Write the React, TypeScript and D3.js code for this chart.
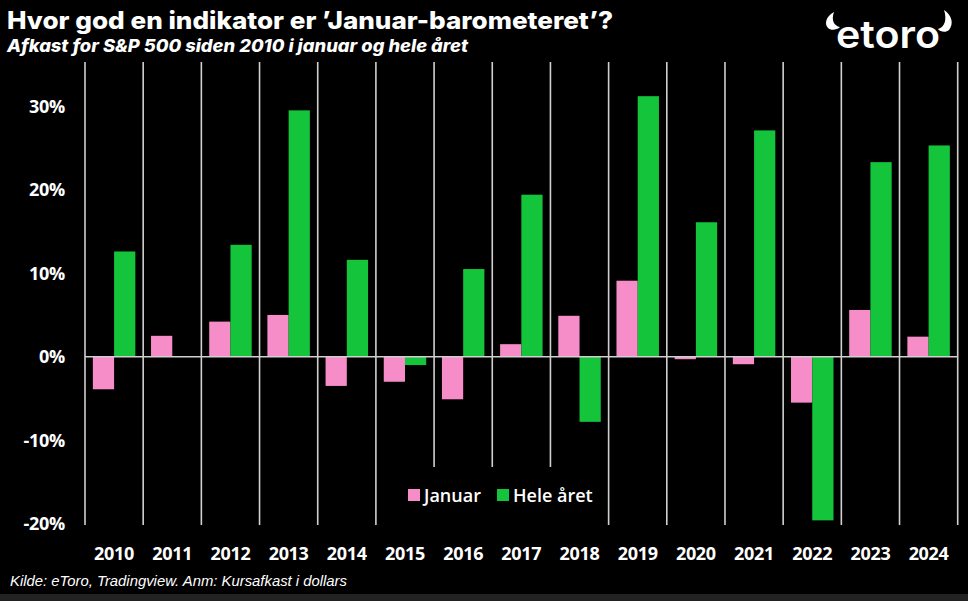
// @ts-nocheck
import { useEffect, useRef } from "react";
import * as d3 from "d3";

const years = ["2010", "2011", "2012", "2013", "2014", "2015", "2016", "2017", "2018", "2019", "2020", "2021", "2022", "2023", "2024"];
const januar = [-3.9, 2.5, 4.2, 5.0, -3.5, -3.0, -5.1, 1.5, 4.9, 9.1, -0.3, -0.9, -5.5, 5.6, 2.4];
const heleAaret = [12.6, 0, 13.4, 29.5, 11.6, -1.0, 10.5, 19.4, -7.8, 31.2, 16.1, 27.1, -19.6, 23.3, 25.3];
const yTicks = [-20, -10, 0, 10, 20, 30];
const seriesNames = ["Januar", "Hele året"];
const colors = ["#f68dc9", "#14c43b"];

const W = 968;
const H = 601;

export default function App() {
  const ref = useRef<SVGSVGElement>(null);

  useEffect(() => {
    const svg = d3.select(ref.current);
    svg.selectAll("*").remove();

    svg.append("rect").attr("width", W).attr("height", H).attr("fill", "#000");
    svg.append("rect").attr("y", 594).attr("width", W).attr("height", H - 594).attr("fill", "#222");

    const x = d3.scaleBand().domain(years).range([85, 957.7]).paddingInner(0).paddingOuter(0);
    const inner = d3.scaleBand().domain(seriesNames).range([0, x.bandwidth()]).paddingInner(0).paddingOuter(0.37);
    const y = d3.scaleLinear().domain([-20, 30]).range([523.7, 106.2]);

    // separators between years
    const seps = [...years.map((yr) => x(yr)), x(years[years.length - 1]) + x.bandwidth()];
    svg
      .append("g")
      .selectAll("line")
      .data(seps)
      .join("line")
      .attr("x1", (d) => d)
      .attr("x2", (d) => d)
      .attr("y1", 62)
      .attr("y2", (d, i) => (i >= 6 && i <= 8 ? 467 : 525))
      .attr("stroke", "#d0d0d0")
      .attr("stroke-width", 1.6);

    // bars
    const data = years.map((yr, i) => ({ yr, vals: [januar[i], heleAaret[i]] }));
    const g = svg.append("g");
    data.forEach((d) => {
      d.vals.forEach((v, k) => {
        if (v === 0) return;
        g.append("rect")
          .attr("x", x(d.yr) + inner(seriesNames[k]))
          .attr("width", inner.bandwidth())
          .attr("y", y(Math.max(0, v)))
          .attr("height", Math.abs(y(v) - y(0)))
          .attr("fill", colors[k]);
      });
    });

    // zero line
    svg
      .append("line")
      .attr("x1", 85)
      .attr("x2", 957.7)
      .attr("y1", y(0))
      .attr("y2", y(0))
      .attr("stroke", "#d0d0d0")
      .attr("stroke-width", 1.6);

    const font = "'Open Sans', sans-serif";

    // y axis
    svg
      .append("g")
      .selectAll("text")
      .data(yTicks)
      .join("text")
      .attr("x", 65)
      .attr("y", (d) => y(d) + 6.5)
      .attr("text-anchor", "end")
      .attr("fill", "#fff")
      .attr("font-family", font)
      .attr("font-weight", 700)
      .attr("font-size", 18)
      .attr("letter-spacing", -0.3)
      .text((d) => `${d}%`);

    // x labels
    svg
      .append("g")
      .selectAll("text")
      .data(years)
      .join("text")
      .attr("x", (d) => x(d) + x.bandwidth() / 2)
      .attr("y", 560)
      .attr("text-anchor", "middle")
      .attr("fill", "#fff")
      .attr("font-family", font)
      .attr("font-weight", 700)
      .attr("font-size", 18)
      .attr("letter-spacing", -0.3)
      .text((d) => d);

    // legend
    const leg = svg.append("g");
    const legItems = [
      { name: seriesNames[0], x: 408 },
      { name: seriesNames[1], x: 497 },
    ];
    legItems.forEach((it, k) => {
      leg.append("rect").attr("x", it.x).attr("y", 489).attr("width", 12).attr("height", 12).attr("fill", colors[k]);
      leg
        .append("text")
        .attr("x", it.x + 16)
        .attr("y", 502)
        .attr("fill", "#fff")
        .attr("font-family", font)
        .attr("font-weight", 600)
        .attr("font-size", 18)
        .text(it.name);
    });

    // titles
    svg
      .append("text")
      .attr("x", 7)
      .attr("y", 29)
      .attr("fill", "#fff")
      .attr("font-family", "Inter, sans-serif")
      .attr("font-weight", 800)
      .attr("font-size", 24)
      .attr("textLength", 606)
      .attr("lengthAdjust", "spacingAndGlyphs")
      .text("Hvor god en indikator er ’Januar-barometeret’?");
    svg
      .append("text")
      .attr("x", 7)
      .attr("y", 52)
      .attr("fill", "#fff")
      .attr("font-family", "Inter, sans-serif")
      .attr("font-weight", 800)
      .attr("font-style", "italic")
      .attr("font-size", 17)
      .attr("textLength", 461)
      .attr("lengthAdjust", "spacingAndGlyphs")
      .text("Afkast for S&P 500 siden 2010 i januar og hele året");

    svg
      .append("text")
      .attr("x", 10)
      .attr("y", 586)
      .attr("fill", "#fff")
      .attr("font-family", "'Liberation Sans', Arial, sans-serif")
      .attr("font-style", "italic")
      .attr("font-size", 15)
      .attr("textLength", 337)
      .attr("lengthAdjust", "spacingAndGlyphs")
      .text("Kilde: eToro, Tradingview. Anm: Kursafkast i dollars");

    // logo
    const logo = svg.append("g").attr("fill", "#fff");
    logo
      .append("text")
      .attr("x", 836)
      .attr("y", 48)
      .attr("font-family", "Inter, sans-serif")
      .attr("font-weight", 600)
      .attr("font-size", 38)
      .attr("textLength", 104)
      .attr("lengthAdjust", "spacingAndGlyphs")
      .text("etoro");
    logo.append("path").attr("d", "M834,12 C826,16 824,24 828,28 C831,31 837,30 840,27 C834,26 831,20 834,12 Z");
    logo.append("path").attr("d", "M944,10 C952,15 954,24 949,30 C946,33 940,32 938,29 C945,27 947,19 944,10 Z");
  }, []);

  return (
    <svg
      ref={ref}
      width={W}
      height={H}
      style={{ position: "absolute", left: 0, top: 0, display: "block" }}
    />
  );
}
